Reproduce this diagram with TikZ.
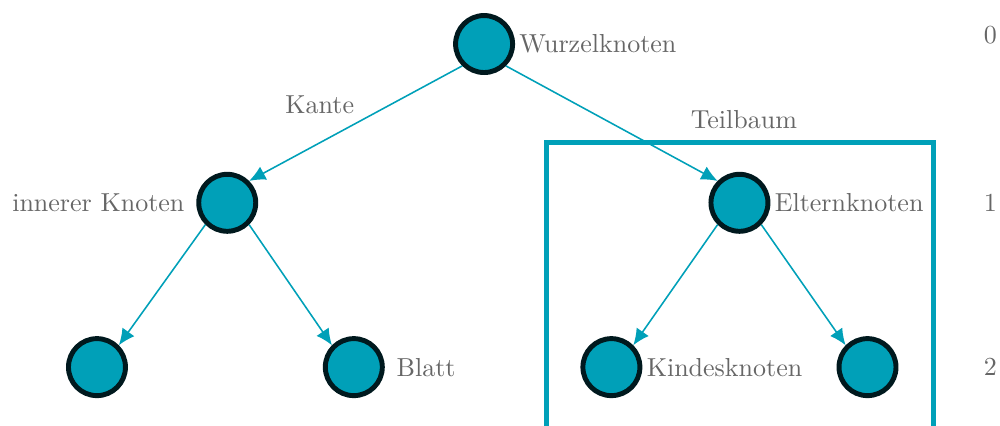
\documentclass[tikz,border=0pt]{standalone}
\usepackage{tikz}
\usetikzlibrary{positioning, arrows.meta}
\definecolor{myteal}{HTML}{00A0B8}
\definecolor{mydark}{HTML}{00191E}
\definecolor{mygray}{HTML}{666666}
\tikzset{
	treenode/.style={
			shape=circle,
			draw=mydark,
			fill=myteal,
			line width=1.9pt,
			minimum size=7.7mm,
			inner sep=0pt
		},
	treeedge/.style={
			color=myteal,
			line width=0.6pt,
			-{Latex[length=2.2mm, width=2mm]}
		},
	subtreebox/.style={
			draw=myteal,
			line width=1.9pt
		}
}
\tikzset{
	graytext/.style={font=\normalsize\color{mygray}, inner sep=1.5pt}
}

\begin{document}
\begin{tikzpicture}

				\clip (0,0) rectangle (13.51,-5.743);

				% subtree frame, open at the bottom
				\draw[subtreebox] (7.38,-6.2) -- (7.38,-1.92) -- (12.61,-1.92) -- (12.61,-6.2);
				\node[graytext] (teil) at (10.05,-1.62) {Teilbaum};

				\node[treenode] (r)  at (6.54,-0.595) {};
				\node[treenode] (i)  at (3.07,-2.74) {};
				\node[treenode] (e)  at (9.99,-2.74) {};
				\node[treenode] (b1) at (1.31,-4.96) {};
				\node[treenode] (b2) at (4.78,-4.96) {};
				\node[treenode] (k1) at (8.26,-4.96) {};
				\node[treenode] (k2) at (11.72,-4.96) {};

				\node[right=0pt of r,  graytext] {Wurzelknoten};
				\node[left=1mm of i,   graytext] {innerer Knoten};
				\node[right=0pt of e,  graytext] {Elternknoten};
				\node[right=1mm of b2, graytext] {Blatt};
				\node[right=0pt of k1, graytext] {Kindesknoten};
				\node[graytext] (kante) at (4.32,-1.41) {Kante};

				% level numbers
				\node[graytext] (l0) at (13.38,-0.47) {0};
				\node[graytext] (l1) at (13.38,-2.74) {1};
				\node[graytext] (l2) at (13.38,-4.96) {2};

				\draw[treeedge] (r.south west) -- (i.north east);
				\draw[treeedge] (r.south east) -- (e.north west);
				\draw[treeedge] (i.south west) -- (b1.north east);
				\draw[treeedge] (i.south east) -- (b2.north west);
				\draw[treeedge] (e.south west) -- (k1.north east);
				\draw[treeedge] (e.south east) -- (k2.north west);

			\end{tikzpicture}
\end{document}
